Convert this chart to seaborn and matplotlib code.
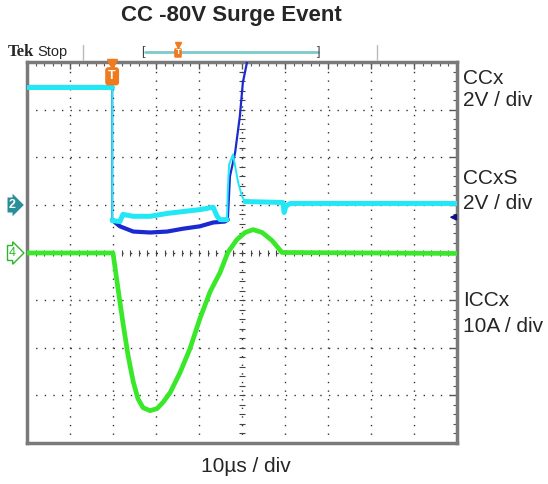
"""Tek scope capture: CC -80V surge event (CCx, CCxS, ICCx)."""

import numpy as np
import pandas as pd
import matplotlib
matplotlib.use('Agg')
import matplotlib.pyplot as plt
from matplotlib.lines import Line2D
import seaborn as sns

# time in us (10 us / div), values in screen divisions (0 = centre line)
ccx_t = [0, 19.8, 19.8, 20.5, 21.6, 24.7, 28.6, 32.6, 36.3, 40.2, 43.3,
         46.0, 46.7, 47.2, 48.4, 49.5, 50.2, 51.2]
ccx_div = [3.47, 3.47, 0.69, 0.63, 0.55, 0.44, 0.42, 0.44, 0.50, 0.55, 0.63,
           0.65, 0.69, 1.60, 2.10, 2.86, 3.57, 4.01]

ccxs_t = [0, 19.8, 19.8, 21.6, 22.3, 24.7, 28.6, 32.6, 36.3, 40.2, 43.3,
          44.2, 44.9, 46.5, 46.7, 47.0, 47.9, 49.1, 50.0, 50.7, 59.5, 59.8,
          60.2, 61.2, 100]
ccxs_div = [3.47, 3.47, 0.67, 0.65, 0.80, 0.76, 0.76, 0.82, 0.86, 0.90, 0.95,
            0.76, 0.69, 0.69, 1.32, 1.85, 2.06, 1.47, 1.18, 1.07, 1.05, 0.84,
            0.97, 1.03, 1.03]

iccx_t = [0, 20.0, 21.2, 22.3, 23.5, 24.7, 25.8, 27.0, 28.6, 30.2, 31.6,
          33.3, 35.6, 37.9, 40.2, 42.6, 44.9, 46.7, 48.8, 50.7, 52.6, 54.7,
          57.0, 59.3, 100]
iccx_div = [-0.01, -0.01, -0.78, -1.47, -2.16, -2.71, -3.07, -3.26, -3.32,
            -3.28, -3.15, -2.94, -2.52, -2.02, -1.39, -0.82, -0.42, 0.0, 0.27,
            0.42, 0.48, 0.42, 0.25, 0.0, -0.02]

labels = [('CCx', 79), ('2V / div', 101), ('CCxS', 179), ('2V / div', 204),
          ('ICCx', 301), ('10A / div', 326)]

W, H = 548, 484


def fx(px):
    return px / W


def fy(py):
    return 1 - py / H


def draw_trace(ax, t, v, color, lw, z):
    df = pd.DataFrame({'t': t, 'v': v})
    sns.lineplot(data=df, x='t', y='v', ax=ax, color=color, linewidth=lw,
                 estimator=None, sort=False, legend=False, zorder=z)


sns.set_style('white')
plt.rcParams['font.family'] = ['Liberation Sans', 'DejaVu Sans']

fig = plt.figure(figsize=(5.48, 4.84), dpi=100)
ax = fig.add_axes([fx(27), fy(443), fx(457) - fx(27), fy(62) - fy(443)])
ax.set_xlim(0, 100)
ax.set_ylim(-4, 4)

# graticule
ax.set_xticks(np.arange(0, 101, 10))
ax.set_xticks(np.arange(0, 101, 2), minor=True)
ax.set_yticks(np.arange(-4, 4.01, 1))
ax.set_yticks(np.arange(-4, 4.01, 0.2), minor=True)
ax.tick_params(which='both', direction='in', top=True, right=True,
               labelbottom=False, labelleft=False, color='#555555')
ax.tick_params(which='major', length=5, width=1)
ax.tick_params(which='minor', length=3, width=0.8)
ax.grid(which='major', linestyle=(0, (1, 5.2)), color='#333333', linewidth=1)
for s in ax.spines.values():
    s.set_color('#7a7a7a')
    s.set_linewidth(2.5)
# centre line ticks
ax.plot(np.arange(0, 101, 2), np.zeros(51), ls='none', marker='|', ms=5,
        mew=0.8, color='#444444', zorder=1)
ax.plot(np.full(41, 50), np.arange(-4, 4.01, 0.2), ls='none', marker='_',
        ms=5, mew=0.8, color='#444444', zorder=1)

# thin pass for the whole trace, thick (noisy) pass over the flat parts
draw_trace(ax, ccx_t, ccx_div, '#1a2ad0', 1.6, 3)
for a, b in [(0, 2), (2, 13)]:
    draw_trace(ax, ccx_t[a:b], ccx_div[a:b], '#1a2ad0', 3.0, 3)
draw_trace(ax, ccxs_t, ccxs_div, '#22e8f5', 1.4, 4)
for a, b in [(0, 2), (2, 14), (19, len(ccxs_t))]:
    draw_trace(ax, ccxs_t[a:b], ccxs_div[a:b], '#22e8f5', 3.6, 4)
draw_trace(ax, iccx_t, iccx_div, '#3ae82a', 3.4, 5)
ax.set_xlabel('')
ax.set_ylabel('')

# trigger marker on the graticule
ax.plot([19.8], [3.95], marker='v', ms=7, color='#f07a1e', clip_on=False,
        zorder=6)
ax.text(19.8, 3.7, 'T', ha='center', va='center', color='white',
        fontsize=9, fontweight='bold', zorder=7,
        bbox=dict(boxstyle='round,pad=0.25', fc='#f07a1e', ec='none'))
# ch1 offset arrow on the right
ax.annotate('', xy=(97.6, 0.74), xytext=(99.8, 0.74),
            arrowprops=dict(arrowstyle='-|>', color='#10108a', lw=1.2,
                            mutation_scale=9))

# channel markers on the left
fig.text(fx(9), fy(205), '2', ha='left', va='center', color='white',
         fontsize=9, fontweight='bold',
         bbox=dict(boxstyle='rarrow,pad=0.12', fc='#2a8e98', ec='none'))
fig.text(fx(9), fy(253), '4', ha='left', va='center', color='#2ab82a',
         fontsize=9,
         bbox=dict(boxstyle='rarrow,pad=0.12', fc='white', ec='#2ab82a',
                   lw=1))

# header bar
fig.text(fx(8), fy(52), 'Tek', ha='left', va='center', fontsize=12,
         fontweight='bold', family=['Liberation Serif', 'DejaVu Serif'])
fig.text(fx(37), fy(52), 'Stop', ha='left', va='center', fontsize=10.5)
for px in (83, 377):
    fig.add_artist(Line2D([fx(px), fx(px)], [fy(45), fy(60)],
                          color='#bbbbbb', lw=1))
fig.add_artist(Line2D([fx(145), fx(318)], [fy(52), fy(52)],
                      color='#7ccaca', lw=2))
fig.text(fx(143), fy(52), '[', ha='center', va='center', fontsize=9,
         color='#444444')
fig.text(fx(319), fy(52), ']', ha='center', va='center', fontsize=9,
         color='#444444')
fig.add_artist(Line2D([fx(178)], [fy(45)], marker='v', ms=5,
                      color='#f07a1e'))
fig.text(fx(178), fy(53), 'T', ha='center', va='center', color='white',
         fontsize=6, fontweight='bold',
         bbox=dict(boxstyle='round,pad=0.15', fc='#f07a1e', ec='none'))

# titles and labels
fig.text(fx(231), fy(16), 'CC -80V Surge Event', ha='center', va='center',
         fontsize=16, fontweight='bold')
fig.text(fx(246), fy(467), '10µs / div', ha='center', va='center',
         fontsize=15)
for txt, py in labels:
    fig.text(fx(463), fy(py), txt, ha='left', va='center', fontsize=15)

fig.savefig('out.png', dpi=100, facecolor='white')
